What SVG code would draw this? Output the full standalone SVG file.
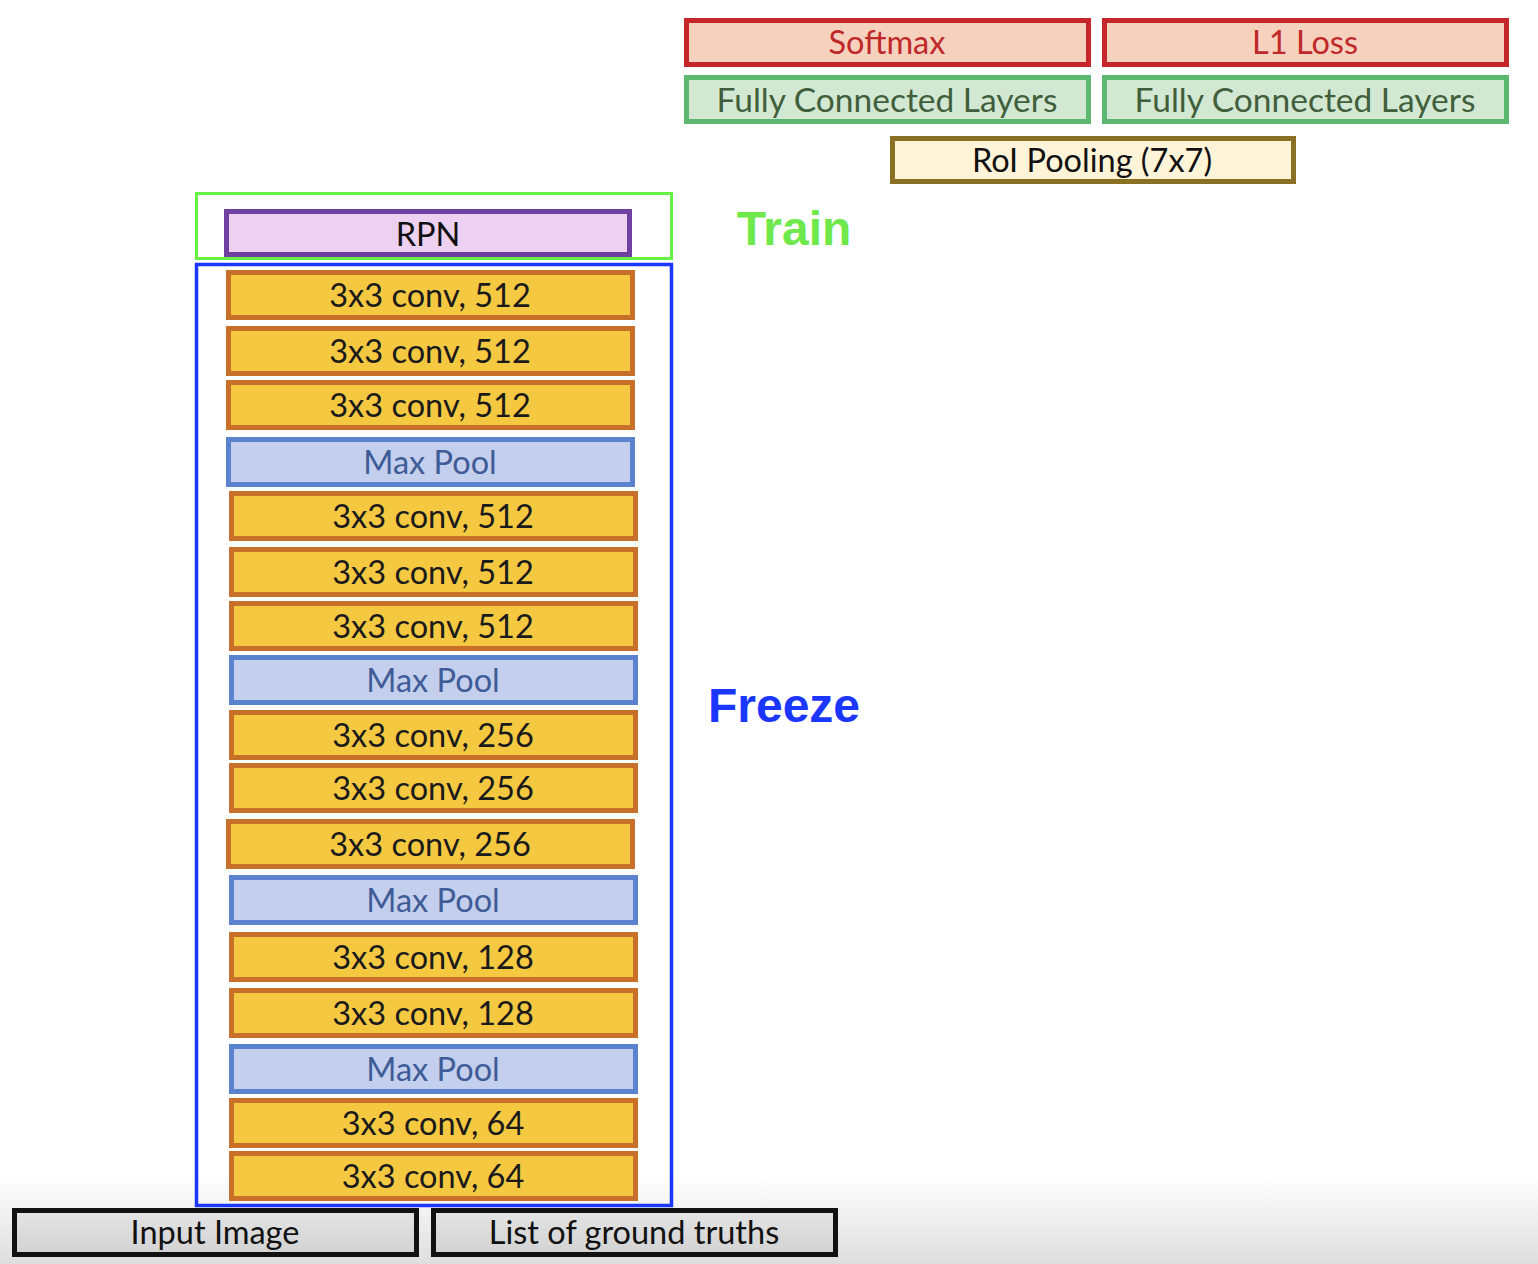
<svg xmlns="http://www.w3.org/2000/svg" width="1538" height="1264" viewBox="0 0 1538 1264">
<defs>
<linearGradient id="bg" x1="0" y1="0" x2="0" y2="1">
<stop offset="0" stop-color="#ffffff"/>
<stop offset="1" stop-color="#dedede"/>
</linearGradient>
<linearGradient id="gbox" x1="0" y1="0" x2="0" y2="1">
<stop offset="0" stop-color="#e4e4e4"/>
<stop offset="1" stop-color="#d2d2d2"/>
</linearGradient>
</defs>
<style>
text{font-family:Lato,"Open Sans","Liberation Sans",sans-serif;font-size:32.5px;text-anchor:middle}
.conv rect{fill:#f5c842;stroke:#c8702a;stroke-width:5}
.conv text{fill:#1a1a1a}
.pool rect{fill:#c3cfec;stroke:#5b82cc;stroke-width:5}
.pool text{fill:#3f5c98}
.loss rect{fill:#f6d2be;stroke:#c4262a;stroke-width:5}
.loss text{fill:#c0282a}
.fc rect{fill:#d2e8d2;stroke:#5cb870;stroke-width:5}
.fc text{fill:#415e3c;font-size:33.5px}
.roi rect{fill:#fff4d8;stroke:#8a7022;stroke-width:5}
.rpn rect{fill:#ecd2f0;stroke:#7040a0;stroke-width:5}
.io rect{fill:url(#gbox);stroke:#111;stroke-width:5}
.roi text,.rpn text,.io text{fill:#111}
.big{font-family:"Liberation Sans",Arial,sans-serif;font-weight:bold;font-size:48px}
</style>
<rect x="0" y="0" width="1538" height="1264" fill="#ffffff"/>
<rect x="0" y="1175" width="1538" height="89" fill="url(#bg)"/>

<g id="softmax" class="loss"><rect x="686.5" y="20.5" width="402" height="44"/><text x="887" y="54">Softmax</text></g>
<g id="l1loss" class="loss"><rect x="1104.5" y="20.5" width="402" height="44"/><text x="1305" y="54">L1 Loss</text></g>
<g id="fc1" class="fc"><rect x="686.5" y="77.5" width="402" height="44"/><text x="887" y="112">Fully Connected Layers</text></g>
<g id="fc2" class="fc"><rect x="1104.5" y="77.5" width="402" height="44"/><text x="1305" y="112">Fully Connected Layers</text></g>
<g id="roi" class="roi"><rect x="892.5" y="138.5" width="401" height="43"/><text x="1092" y="172">RoI Pooling (7x7)</text></g>

<g id="train-group"><rect x="196.5" y="193.5" width="475" height="65" fill="none" stroke="#66f244" stroke-width="3"/><text class="big" x="794" y="245" fill="#6ee84a">Train</text></g>
<g id="rpn" class="rpn"><rect x="226.5" y="211.5" width="403" height="43"/><text x="428" y="246">RPN</text></g>

<g id="freeze-group"><rect x="196.5" y="264.5" width="475" height="941" fill="none" stroke="#1a36ff" stroke-width="3.5"/><text class="big" x="784" y="722" fill="#1a36ff">Freeze</text></g>

<g id="conv5_3" class="conv"><rect x="228.5" y="272.5" width="404" height="45"/><text x="430" y="307">3x3 conv, 512</text></g>
<g id="conv5_2" class="conv"><rect x="228.5" y="328.5" width="404" height="45"/><text x="430" y="363">3x3 conv, 512</text></g>
<g id="conv5_1" class="conv"><rect x="228.5" y="382.5" width="404" height="45"/><text x="430" y="417">3x3 conv, 512</text></g>
<g id="pool4" class="pool"><rect x="228.5" y="439.5" width="404" height="45"/><text x="430" y="474">Max Pool</text></g>
<g id="conv4_3" class="conv"><rect x="231.5" y="493.5" width="404" height="45"/><text x="433" y="528">3x3 conv, 512</text></g>
<g id="conv4_2" class="conv"><rect x="231.5" y="549.5" width="404" height="45"/><text x="433" y="584">3x3 conv, 512</text></g>
<g id="conv4_1" class="conv"><rect x="231.5" y="603.5" width="404" height="45"/><text x="433" y="638">3x3 conv, 512</text></g>
<g id="pool3" class="pool"><rect x="231.5" y="657.5" width="404" height="45"/><text x="433" y="692">Max Pool</text></g>
<g id="conv3_3" class="conv"><rect x="231.5" y="712.5" width="404" height="45"/><text x="433" y="747">3x3 conv, 256</text></g>
<g id="conv3_2" class="conv"><rect x="231.5" y="765.5" width="404" height="45"/><text x="433" y="800">3x3 conv, 256</text></g>
<g id="conv3_1" class="conv"><rect x="228.5" y="821.5" width="404" height="45"/><text x="430" y="856">3x3 conv, 256</text></g>
<g id="pool2" class="pool"><rect x="231.5" y="877.5" width="404" height="45"/><text x="433" y="912">Max Pool</text></g>
<g id="conv2_2" class="conv"><rect x="231.5" y="934.5" width="404" height="45"/><text x="433" y="969">3x3 conv, 128</text></g>
<g id="conv2_1" class="conv"><rect x="231.5" y="990.5" width="404" height="45"/><text x="433" y="1025">3x3 conv, 128</text></g>
<g id="pool1" class="pool"><rect x="231.5" y="1046.5" width="404" height="45"/><text x="433" y="1081">Max Pool</text></g>
<g id="conv1_2" class="conv"><rect x="231.5" y="1100.5" width="404" height="45"/><text x="433" y="1135">3x3 conv, 64</text></g>
<g id="conv1_1" class="conv"><rect x="231.5" y="1153.5" width="404" height="45"/><text x="433" y="1188">3x3 conv, 64</text></g>

<g id="input" class="io"><rect x="14.5" y="1210.5" width="402" height="44"/><text x="215" y="1244">Input Image</text></g>
<g id="gt" class="io"><rect x="433.5" y="1210.5" width="402" height="44"/><text x="634" y="1244">List of ground truths</text></g>

<g id="connectors"></g>
</svg>
